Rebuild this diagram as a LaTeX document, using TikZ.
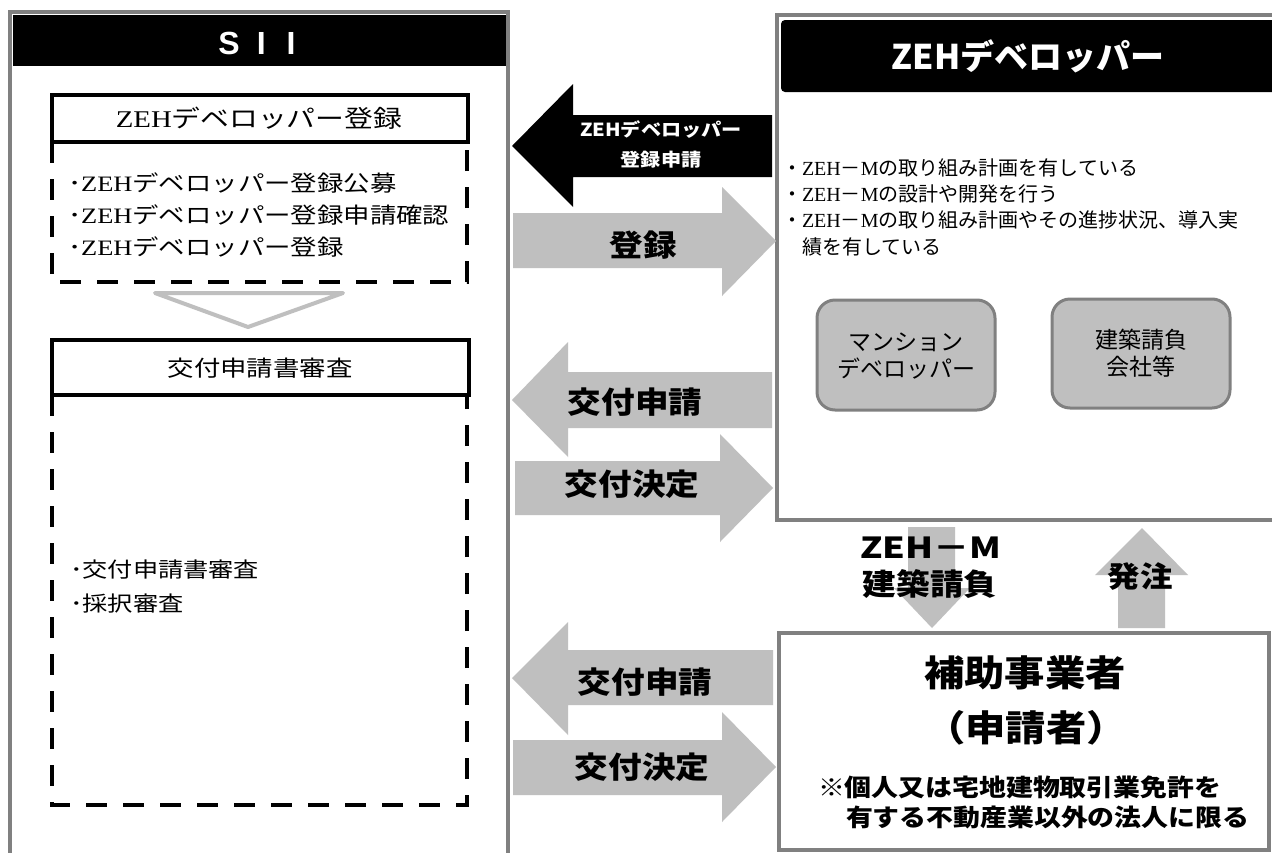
\documentclass[tikz,border=0pt]{standalone}
\usepackage{fontspec}
\setmainfont{Noto Sans CJK JP}
\newfontfamily\jp{Noto Sans CJK JP}
\newfontfamily\jpw[FakeStretch=1.2]{Noto Sans CJK JP}
\newfontfamily\jpb[FakeStretch=1.12]{Noto Sans CJK JP}
\newfontfamily\jpx[FakeStretch=1.25]{Noto Sans CJK JP}
\newfontfamily\serw[FakeStretch=1.2]{Liberation Serif}
\newfontfamily\ser{Liberation Serif}
\newfontfamily\lsans{Liberation Sans}
\newcommand\fsz[1]{\fontsize{#1}{#1}\selectfont}
\definecolor{arrowgray}{HTML}{BFBFBF}
\definecolor{bordergray}{HTML}{808080}
\tikzset{
  txt/.style={inner sep=0pt, outer sep=0pt},
  panel/.style={draw=bordergray, line width=4.5pt, fill=white},
  blackhead/.style={fill=black, draw=none},
  titlebox/.style={draw=black, line width=4pt, fill=white},
  dashbox/.style={draw=black, line width=4.5pt, dash pattern=on 21pt off 16pt},
  garrow/.style={fill=arrowgray, draw=none},
  barrow/.style={fill=black, draw=none},
  rbox/.style={draw=bordergray, line width=3pt, fill=arrowgray, rounded corners=18pt},
  arrtxt/.style={txt, font=\fsz{30}\jpb\bfseries},
}
\begin{document}
\begin{tikzpicture}[x=1pt,y=-1pt]
\useasboundingbox (0,0) rectangle (1272,852);
\fill[white] (0,0) rectangle (1272,852);

% ===== SII panel =====
\draw[panel] (10,12) rectangle (508,870);
\fill[blackhead] (12.5,14.5) rectangle (505.5,66);
\node[txt, text=white, font=\fsz{32}\lsans\bfseries] (sii) at (257,43) {S\hspace{17pt}I\hspace{21pt}I};

% registration block
\draw[dashbox] (52,142) rectangle (467,282);
\draw[titlebox] (52,95) rectangle (468,142);
\node[txt, font=\fsz{24}\jpw] (regtitle) at (259,118) {{\serw ZEH}デベロッパー登録};
\node[txt, anchor=west, font=\fsz{22}\jpw] (reg1) at (68,183) {･{\serw ZEH}デベロッパー登録公募};
\node[txt, anchor=west, font=\fsz{22}\jpw] (reg2) at (68,215) {･{\serw ZEH}デベロッパー登録申請確認};
\node[txt, anchor=west, font=\fsz{22}\jpw] (reg3) at (68,247) {･{\serw ZEH}デベロッパー登録};

% chevron
\coordinate (chL) at (155,293);
\coordinate (chR) at (343,293);
\coordinate (chT) at (248,327);
\draw[draw=arrowgray, line width=4pt, line join=round, line cap=round, fill=white] (chL) -- (chR) -- (chT) -- cycle;

% review block
\draw[dashbox] (52,395) rectangle (467,805);
\draw[titlebox] (52,340) rectangle (469,395);
\node[txt, font=\fsz{22}\jpw] (revtitle) at (260,368) {交付申請書審査};
\node[txt, anchor=west, font=\fsz{21}\jpw] (rev1) at (70,570) {･交付申請書審査};
\node[txt, anchor=west, font=\fsz{21}\jpw] (rev2) at (70,604) {･採択審査};

% ===== ZEH developer panel =====
\draw[panel] (777,15) rectangle (1290,520);
\fill[blackhead, rounded corners=4pt] (781,20) rectangle (1290,92);
\node[txt, text=white, font=\fsz{34}\jp\bfseries] (devtitle) at (1028,56) {ZEHデベロッパー};
\node[txt, anchor=west, font=\fsz{20}\jp] (dev1) at (782,168) {・{\ser ZEH}－{\ser M}の取り組み計画を有している};
\node[txt, anchor=west, font=\fsz{20}\jp] (dev2) at (782,194) {・{\ser ZEH}－{\ser M}の設計や開発を行う};
\node[txt, anchor=west, font=\fsz{20}\jp] (dev3) at (782,220) {・{\ser ZEH}－{\ser M}の取り組み計画やその進捗状況、導入実};
\node[txt, anchor=west, font=\fsz{20}\jp] (dev4) at (802,247) {績を有している};

\draw[rbox] (817,300) rectangle (995,410);
\node[txt, align=center, font=\fontsize{23}{27}\selectfont\jp] (mansion) at (906,356) {マンション\\デベロッパー};
\draw[rbox] (1052,299) rectangle (1230,408);
\node[txt, align=center, font=\fontsize{23}{27}\selectfont\jp] (builder) at (1141,353) {建築請負\\会社等};

% ===== applicant panel =====
\draw[panel] (779,633) rectangle (1269,850);
\node[txt, font=\fsz{36}\jpb\bfseries] (app1) at (1025,673) {補助事業者};
\node[txt, font=\fsz{36}\jpb\bfseries] (app2) at (1026,728) {（申請者）};
\node[txt, anchor=west, font=\fsz{24}\jpb\bfseries] (note1) at (818,787) {※個人又は宅地建物取引業免許を};
\node[txt, anchor=west, font=\fsz{24}\jpb\bfseries] (note2) at (846,817) {有する不動産業以外の法人に限る};

% ===== block arrows between SII and developer =====
\fill[barrow] (512,146) -- (573,84) -- (573,115) -- (772,115) -- (772,177) -- (573,177) -- (573,207) -- cycle;
\node[txt, text=white, font=\fsz{18}\jpb\bfseries] (regapp1) at (661,130) {ZEHデベロッパー};
\node[txt, text=white, font=\fsz{18}\jpb\bfseries] (regapp2) at (661,160) {登録申請};

\fill[garrow] (513,213) -- (722,213) -- (722,187) -- (776,241) -- (722,296) -- (722,268) -- (513,268) -- cycle;
\node[arrtxt] (regok) at (643,245) {登録};

\fill[garrow] (512,400) -- (568,342) -- (568,372) -- (772,372) -- (772,428) -- (568,428) -- (568,457) -- cycle;
\node[arrtxt] (apply1) at (635,402) {交付申請};

\fill[garrow] (515,461) -- (720,461) -- (720,434) -- (773,488) -- (720,542) -- (720,515) -- (515,515) -- cycle;
\node[arrtxt] (decide1) at (632,484) {交付決定};

% ===== block arrows between SII and applicant =====
\fill[garrow] (512,678) -- (568,622) -- (568,650) -- (773,650) -- (773,705) -- (568,705) -- (568,735) -- cycle;
\node[arrtxt] (apply2) at (645,682) {交付申請};

\fill[garrow] (513,740) -- (722,740) -- (722,712) -- (776,767) -- (722,822) -- (722,795) -- (513,795) -- cycle;
\node[arrtxt] (decide2) at (642,767) {交付決定};

% ===== vertical arrows =====
\fill[garrow] (908,527) -- (955,527) -- (955,588) -- (970,588) -- (932,628) -- (894,588) -- (908,588) -- cycle;
\node[txt, font=\fsz{29}\jpx\bfseries] (zehm1) at (931,548) {ZEH－M};
\node[txt, font=\fsz{30}\jpb\bfseries] (zehm2) at (930,584) {建築請負};

\fill[garrow] (1118,628) -- (1118,575) -- (1095,575) -- (1142,528) -- (1188,575) -- (1165,575) -- (1165,628) -- cycle;
\node[txt, font=\fsz{29}\jpb\bfseries] (order) at (1140,576) {発注};
\end{tikzpicture}
\end{document}
